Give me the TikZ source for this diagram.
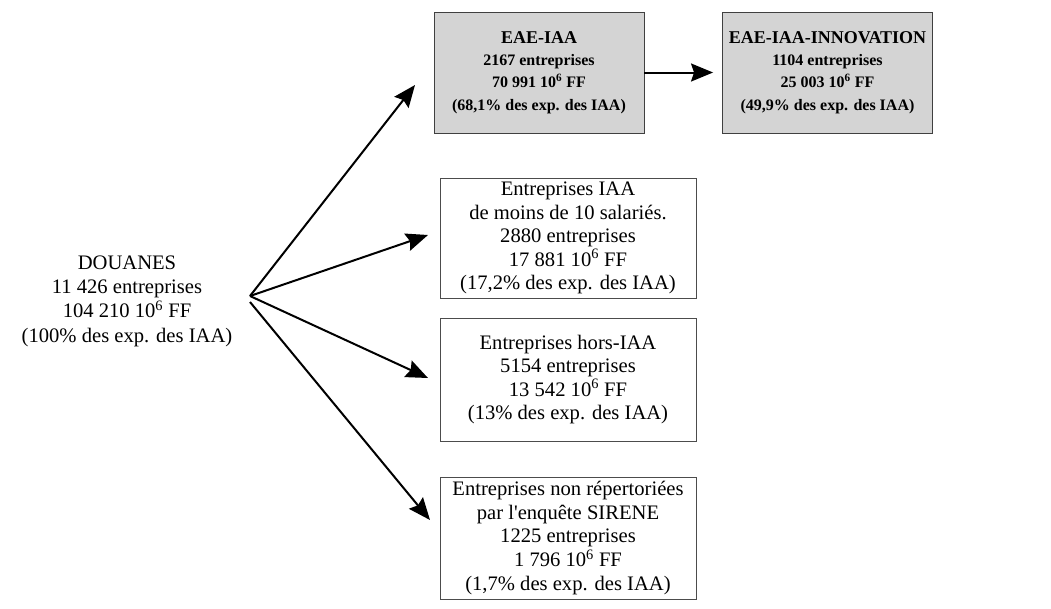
\documentclass[tikz,border=0pt]{standalone}
\usepackage{fontspec}
\setmainfont{Liberation Serif}
\usetikzlibrary{arrows.meta}
\newcommand{\titlesize}{\fontsize{18}{22.3}\selectfont}
\tikzset{
  greybox/.style={draw=black!75, line width=0.9pt, fill=black!17, align=center, inner sep=0pt,
    minimum width=210pt, minimum height=121pt, font=\fontsize{16}{22.3}\selectfont\bfseries},
  whitebox/.style={draw=black!70, line width=0.9pt, fill=white, align=center, inner sep=0pt,
    minimum width=256pt, minimum height=121pt, font=\fontsize{20.6}{23.6}\selectfont},
  plain/.style={align=center, inner sep=0pt, font=\fontsize{20.6}{24.3}\selectfont},
  arr/.style={line width=2pt, -{Stealth[length=22pt,width=18pt,inset=3pt]}}
}
\begin{document}
\begin{tikzpicture}[x=1pt,y=-1pt]
\useasboundingbox (0,0) rectangle (1051,608);
\node[greybox] (eae) at (539,72.5) {{\titlesize EAE-IAA}\\2167 entreprises\\70 991 10\textsuperscript{6} FF\\(68,1\% des exp. des IAA)};
\node[greybox] (inno) at (827.5,72.5) {{\titlesize EAE-IAA-INNOVATION}\\1104 entreprises\\25 003 10\textsuperscript{6} FF\\(49,9\% des exp. des IAA)};
\node[whitebox, minimum height=120pt] (moins) at (568,238) {Entreprises IAA\\de moins de 10 salariés.\\2880 entreprises\\17 881 10\textsuperscript{6} FF\\(17,2\% des exp. des IAA)};
\node[whitebox, minimum height=123pt] (hors) at (568,379.5) {Entreprises hors-IAA\\5154 entreprises\\13 542 10\textsuperscript{6} FF\\(13\% des exp. des IAA)};
\node[whitebox, minimum height=122pt] (nonrep) at (568,538) {Entreprises non répertoriées\\par l\textquotesingle enquête SIRENE\\1225 entreprises\\1 796 10\textsuperscript{6} FF\\(1,7\% des exp. des IAA)};
\node[plain] (douanes) at (127,301) {DOUANES\\11 426 entreprises\\104 210 10\textsuperscript{6} FF\\(100\% des exp. des IAA)};
\coordinate (o1) at (250,296);
\coordinate (o2) at (250,302);
\coordinate (t1) at (415,85);
\coordinate (t2) at (428,235);
\coordinate (t3) at (428,378);
\coordinate (t4) at (430,520);
\draw[arr] (o1) -- (t1);
\draw[arr] (o1) -- (t2);
\draw[arr] (o1) -- (t3);
\draw[arr] (o2) -- (t4);
\draw[arr, shorten >=9pt] (eae.east) -- (inno.west);
\end{tikzpicture}
\end{document}
